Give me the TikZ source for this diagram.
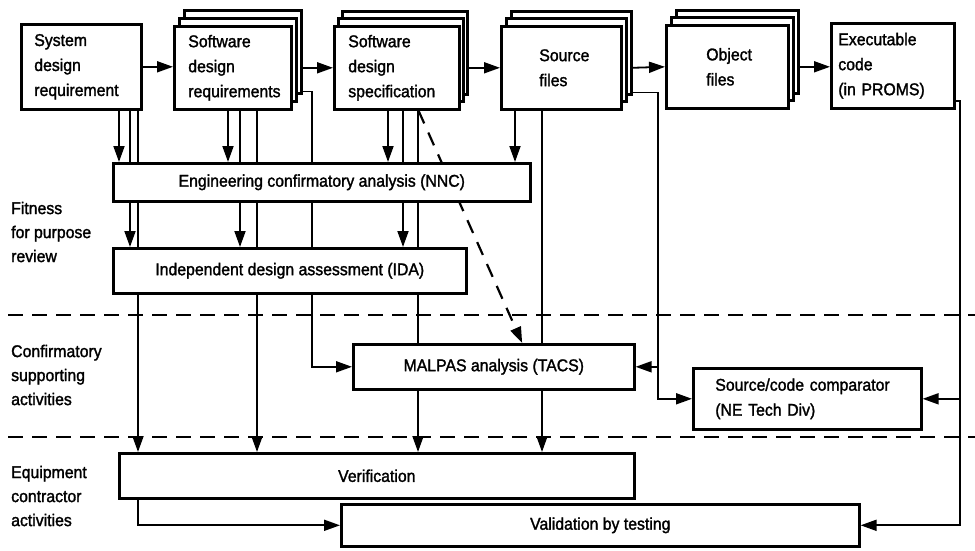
\documentclass[tikz,border=0pt]{standalone}
\usepackage{fontspec}
\setmainfont{Liberation Sans}[FakeStretch=0.93,FakeBold=1.6]
\usetikzlibrary{arrows.meta,calc}
\pgfdeclarelayer{back}
\pgfdeclarelayer{bg}
\pgfsetlayers{back,bg,main}
\begin{document}
\begin{tikzpicture}[x=1pt,y=-1pt,
  font=\fontsize{17}{25}\selectfont,
  box/.style={draw, line width=2.6pt, fill=white, inner ysep=0pt, anchor=north west},
  doc/.style={box, minimum height=83pt},
  lbl/.style={anchor=west, align=left, inner sep=0pt, font=\fontsize{17}{24}\selectfont},
  arr/.style={line width=1.8pt, -{Triangle[length=16pt,width=11pt]}},
  sep/.style={line width=2.2pt, dash pattern=on 15pt off 9pt},
  diag/.style={line width=2.2pt, dash pattern=on 14pt off 10pt, -{Triangle[length=16pt,width=11pt]}}]
\begin{pgfonlayer}{back}
\fill[white] (0,0) rectangle (975,551);
\end{pgfonlayer}
\useasboundingbox (0,0) rectangle (975,551);

% ---- top row documents ----
\node[box, minimum height=85pt, inner xsep=13pt, text width=94pt, align=left] (b1) at (20,23) {System\\design\\requirement};

\node[doc, minimum width=117pt] (b2b) at (183,9) {};
\node[doc, minimum width=117pt] (b2m) at (178,17) {};
\node[doc, inner xsep=14pt, text width=89pt, align=left] (b2) at (173,25) {Software\\design\\requirements};

\node[doc, minimum width=125pt] (b3b) at (341,10) {};
\node[doc, minimum width=125pt] (b3m) at (337,17) {};
\node[doc, inner xsep=14pt, text width=97pt, align=left] (b3) at (333,25) {Software\\design\\specification};

\node[doc, minimum width=120pt] (b4b) at (510,10) {};
\node[doc, minimum width=120pt] (b4m) at (505,17) {};
\node[doc, inner xsep=38pt, text width=44pt, align=left] (b4) at (500,25) {Source\\files};

\node[doc, minimum width=122pt] (b5b) at (675,9) {};
\node[doc, minimum width=122pt] (b5m) at (670,16) {};
\node[doc, inner xsep=40pt, text width=42pt, align=left] (b5) at (665,24) {Object\\files};

\node[box, minimum height=85pt, inner xsep=7pt, text width=109pt, align=left] (b6) at (830,22) {Executable\\code\\(in PROMS)};

% ---- activity boxes ----
\node[box, minimum width=417pt, minimum height=38pt] (eng) at (112,162) {Engineering confirmatory analysis (NNC)};
\node[box, minimum width=353pt, minimum height=45pt] (ida) at (112,247) {Independent design assessment (IDA)};
\node[box, minimum width=281pt, minimum height=45pt] (mal) at (352,343) {MALPAS analysis (TACS)};
\node[box, minimum height=61pt, inner xsep=22pt, text width=184pt, align=left] (comp) at (692,367) {Source/code comparator\\(NE Tech Div)};
\node[box, minimum width=515pt, minimum height=45pt] (ver) at (118,452) {Verification};
\node[box, minimum width=518pt, minimum height=42pt] (val) at (340,503) {Validation by testing};

% ---- side labels ----
\node[lbl] (l1) at (11,232) {Fitness\\for purpose\\review};
\node[lbl] (l2) at (11,375) {Confirmatory\\supporting\\activities};
\node[lbl] (l3) at (11,496) {Equipment\\contractor\\activities};

% ---- lanes ----
\coordinate (L1a) at (119,0); \coordinate (L1b) at (130,0); \coordinate (L1c) at (138,0);
\coordinate (L2a) at (228,0); \coordinate (L2b) at (240,0); \coordinate (L2c) at (257,0); \coordinate (L2d) at (312,0);
\coordinate (L3a) at (388,0); \coordinate (L3b) at (403,0); \coordinate (L3c) at (418,0);
\coordinate (L4a) at (515,0); \coordinate (L4b) at (542,0); \coordinate (L4c) at (658,0);
\coordinate (L6) at (960,0);
\coordinate (d1l) at (8,315); \coordinate (d1r) at (975,315);
\coordinate (d2l) at (8,437); \coordinate (d2r) at (975,437);

\begin{pgfonlayer}{bg}
% horizontal flow
\draw[arr] (b1.east) -- (b1.east -| b2.west);
\draw[arr] (b2b.east |- b2.east) -- (b3.west);
\draw[arr] (b3b.east |- b3.east) -- (b4.west);
\draw[arr] (b4b.east |- b4.east) -- (b5.west);
\draw[arr] (b5b.east |- b5.east) -- (b6.west |- b5.east);
% separators
\draw[sep] (d1l) -- (d1r);
\draw[sep] (d2l) -- (d2r);
% system design requirement
\draw[arr] (b1.south -| L1a) -- (eng.north -| L1a);
\draw[arr] (b1.south -| L1b) -- (ida.north -| L1b);
\draw[arr] (b1.south -| L1c) -- (ver.north -| L1c);
\draw[arr] (ver.south -| L1c) |- (val.west);
% software design requirements
\draw[arr] (b2.south -| L2a) -- (eng.north -| L2a);
\draw[arr] (b2.south -| L2b) -- (ida.north -| L2b);
\draw[arr] (b2.south -| L2c) -- (ver.north -| L2c);
\draw[arr] ([yshift=3pt]b2b.south east) -| (L2d |- mal.west) -- (mal.west);
% software design specification
\draw[arr] (b3.south -| L3a) -- (eng.north -| L3a);
\draw[arr] (b3.south -| L3b) -- (ida.north -| L3b);
\draw[arr] (b3.south -| L3c) -- (ver.north -| L3c);
\draw[diag] ($(b3.south west)!0.67!(b3.south east)$) -- ($(mal.north west)!0.6!(mal.north east)$);
% source files
\draw[arr] (b4.south -| L4a) -- (eng.north -| L4a);
\draw[arr] (b4.south -| L4b) -- (ver.north -| L4b);
\draw[arr] ([yshift=3pt]b4b.south east) -| (L4c |- mal.east) -- (mal.east);
\draw[arr] (L4c |- mal.east) |- (comp.west);
% executable code
\draw[arr] ([yshift=9pt]b6.south east) -| (L6 |- comp.east) -- (comp.east);
\draw[arr] (L6 |- comp.east) |- (val.east);
\end{pgfonlayer}
\end{tikzpicture}
\end{document}
